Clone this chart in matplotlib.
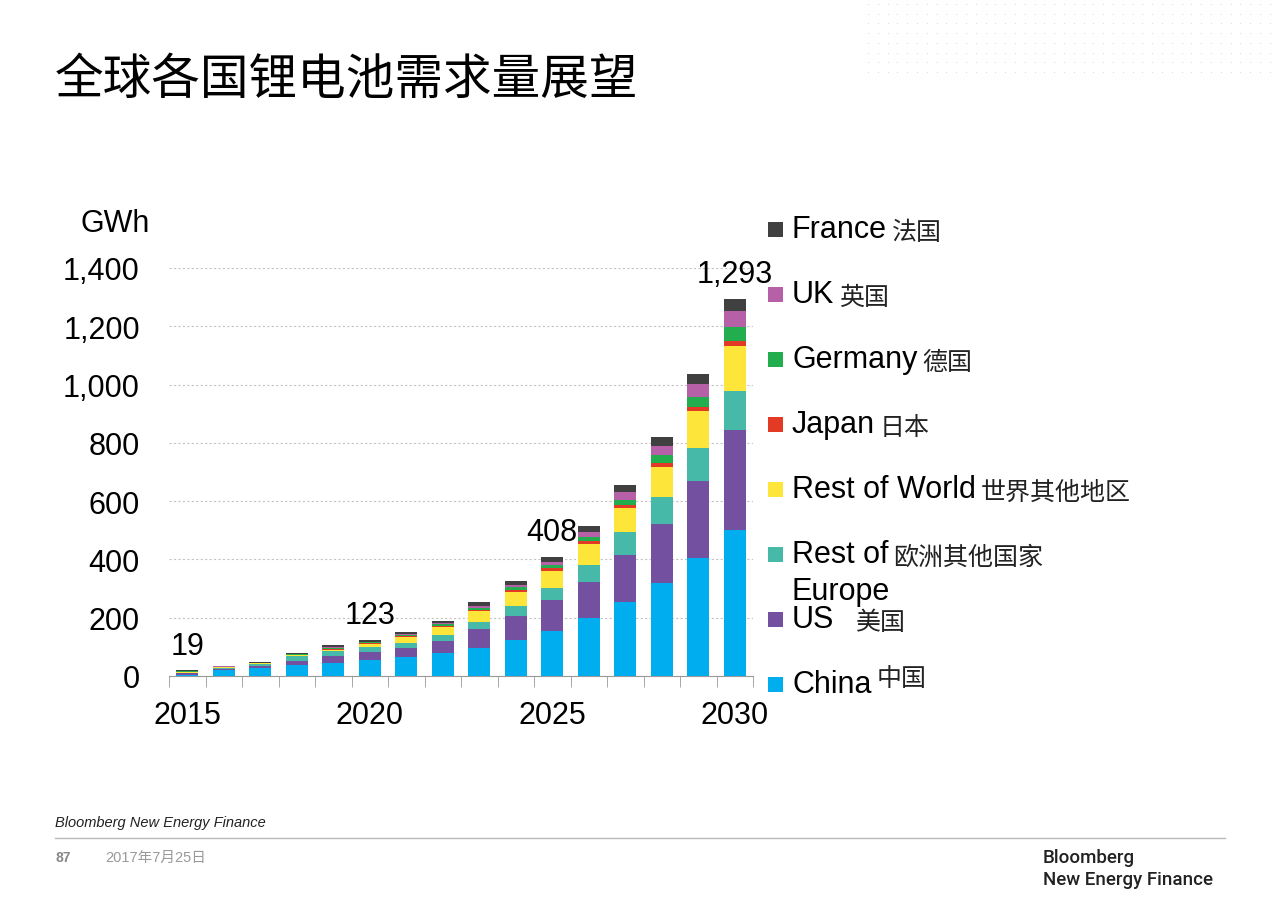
import matplotlib
matplotlib.use('Agg')
import matplotlib.pyplot as plt, numpy as np
from matplotlib.patches import Rectangle

plt.rcParams['font.family'] = ['Liberation Sans', 'Noto Sans CJK SC', 'DejaVu Sans']

# 数据: 各国锂电池需求 (GWh), 2015-2030
years = list(range(2015, 2031))
china       = [5, 22, 26, 38, 46, 55, 64, 78, 97, 123, 155, 198, 255, 319, 405, 500]
us          = [4, 3, 9, 14, 24, 26, 32, 43, 64, 84, 107, 125, 160, 202, 264, 345]
rest_europe = [3, 3, 6, 16, 15, 17, 17, 19, 23, 32, 40, 59, 78, 94, 112, 132]
rest_world  = [2, 2, 2, 3, 5, 11, 20, 29, 38, 50, 59, 71, 82, 103, 129, 156]
japan       = [1, 1, 1, 2, 3, 3, 3, 3, 4, 6, 8, 9, 12, 12, 12, 15]
germany     = [1, 1, 1, 2, 3, 3, 4, 5, 8, 9, 12, 15, 18, 28, 37, 48]
uk          = [1, 1, 1, 2, 3, 3, 4, 5, 7, 9, 11, 16, 25, 32, 42, 57]
france      = [2, 1, 3, 3, 7, 5, 8, 8, 12, 14, 16, 23, 25, 30, 35, 40]

series = [china, us, rest_europe, rest_world, japan, germany, uk, france]
names_en = ['China', 'US', 'Rest of', 'Rest of World', 'Japan', 'Germany', 'UK', 'France']
names_cn = ['中国', '美国', '欧洲其他国家', '世界其他地区', '日本', '德国', '英国', '法国']
colors = ['#00ADEF', '#7451A0', '#47B9A8', '#FDE53A', '#E23A25', '#22AD4F', '#B660A8', '#404040']
label_years = [2015, 2020, 2025, 2030]

W, H = 1280, 904
fig = plt.figure(figsize=(12.8, 9.04), dpi=100)

ax = fig.add_axes([169/W, 1-677/H, (753-169)/W, (677-269)/H])
x = np.arange(len(years))
bottom = np.zeros(len(years))
for vals, c in zip(series, colors):
    ax.bar(x, vals, 0.6, bottom=bottom, color=c, linewidth=0, zorder=3)
    bottom += np.array(vals)

# 总量标注
for yr in label_years:
    i = years.index(yr)
    ax.annotate('{:,}'.format(int(bottom[i])), (x[i], bottom[i]), xytext=(0, 7),
                textcoords='offset points', ha='center', va='bottom', fontsize=22)

ax.set_xlim(-0.5, len(years)-0.5)
ax.set_ylim(0, 1400)
ax.set_yticks(range(0, 1401, 200))
ax.set_yticklabels(['{:,}'.format(v) for v in range(0, 1401, 200)])
ax.set_xticks([years.index(y) for y in label_years])
ax.set_xticklabels([str(y) for y in label_years])
ax.set_xticks(np.arange(-0.5, len(years), 1), minor=True)
ax.tick_params(axis='y', length=0, pad=21, labelsize=22)
ax.tick_params(axis='x', which='major', length=0, pad=17, labelsize=22)
ax.tick_params(axis='x', which='minor', length=8, color='#999999')
ax.yaxis.grid(True, linestyle=(0, (2, 2)), color='#c4c4c4', linewidth=0.8)
ax.set_axisbelow(True)
for s in ['left', 'top', 'right']:
    ax.spines[s].set_visible(False)
ax.spines['bottom'].set_color('#999999')

# 装饰层 (像素坐标)
deco = fig.add_axes([0, 0, 1, 1], zorder=-1)
deco.set_xlim(0, W); deco.set_ylim(H, 0); deco.axis('off')
gx, gy = np.meshgrid(np.arange(868, W, 9.8), np.arange(5, 78, 9.7))
deco.scatter(gx.ravel(), gy.ravel(), s=1.0, color='#e2e2e2', linewidths=0)
deco.plot([55, 1225], [839, 839], color='#bbbbbb', lw=1)

fig.text(55/W, 1-80/H, '全球各国锂电池需求量展望', fontsize=35, va='center',
         family=['Noto Sans CJK SC'], weight='medium')
fig.text(80/W, 1-224/H, 'GWh', fontsize=22, va='center')

# 图例 (从上到下: France ... China)
fig.canvas.draw()
r = fig.canvas.get_renderer()
for k in range(len(series)):
    yc = 685 - 65*k
    deco.add_patch(Rectangle((768, yc-7.5), 15, 15, color=colors[k], lw=0))
    t = deco.text(792, yc, names_en[k], fontsize=22, va='center', ha='left')
    bb = t.get_window_extent(r)
    gap = 22 if names_en[k] == 'US' else 5
    dy = -6 if names_en[k] == 'China' else 3
    deco.text(bb.x1 + gap, yc+dy, names_cn[k], fontsize=18, va='center', ha='left',
              family=['Noto Sans CJK SC'], color='#222222')
    if names_en[k] == 'Rest of':
        deco.text(792, yc+37, 'Europe', fontsize=22, va='center', ha='left')

# 页脚
fig.text(55/W, 1-823/H, 'Bloomberg New Energy Finance', fontsize=10.5, style='italic',
         va='center', color='#222222')
fig.text(55/W, 1-858/H, '87', fontsize=10, weight='bold', va='center', color='#888888')
fig.text(105/W, 1-858/H, '2017年7月25日', fontsize=10.5, va='center', color='#999999',
         family=['Liberation Sans', 'Noto Sans CJK SC'])
fig.text(1043/W, 1-858/H, 'Bloomberg', fontsize=13.5, va='center', color='#222222',
         family=['Roboto'], weight='medium')
fig.text(1043/W, 1-880/H, 'New Energy Finance', fontsize=13.5, va='center', color='#222222',
         family=['Roboto'], weight='medium')

fig.savefig('out.png', dpi=100)
